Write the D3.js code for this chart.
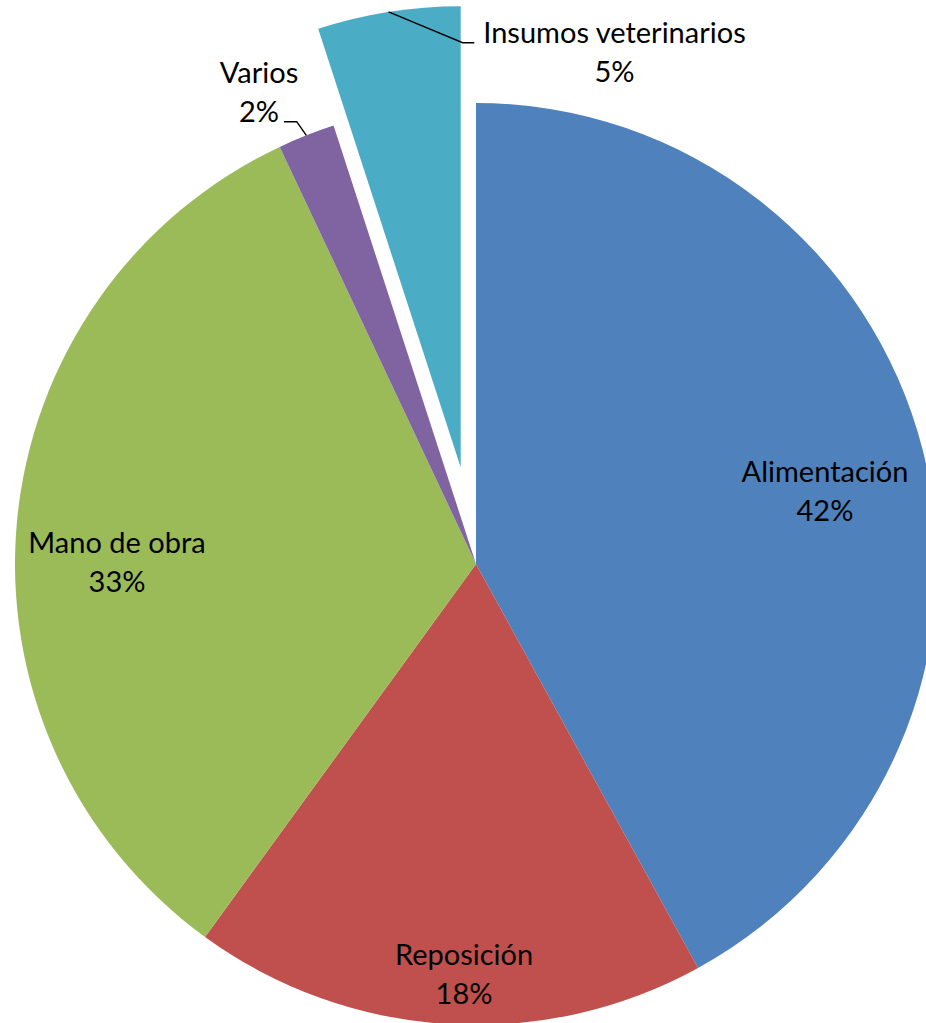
<!DOCTYPE html>
<html>
<head>
<meta charset="utf-8">
<script src="https://cdn.jsdelivr.net/npm/d3@7/dist/d3.min.js"></script>
<style>
  html, body { margin: 0; padding: 0; background: #ffffff; }
  svg { display: block; }
</style>
</head>
<body>
<script>
// Cost structure shares (%)
const categories = ["Alimentación", "Reposición", "Mano de obra", "Varios", "Insumos veterinarios"];
const values = [42, 18, 33, 2, 5];
const colors = ["#4F81BD", "#C0504D", "#9BBB59", "#8064A2", "#4BACC6"];
// Slices pulled out of the pie (distance in px)
const explode = [0, 0, 0, 0, 98];

const W = 926, H = 1023;
const cx = 476, cy = 564, R = 461;

const svg = d3.select("body").append("svg")
  .attr("width", W).attr("height", H);

const g = svg.append("g").attr("transform", `translate(${cx},${cy})`);

const pie = d3.pie().sort(null).value(d => d.value);
const arc = d3.arc().innerRadius(0).outerRadius(R);

const data = categories.map((c, i) => ({ name: c, value: values[i], color: colors[i], explode: explode[i] }));
const arcs = pie(data);

function offset(a) {
  const m = (a.startAngle + a.endAngle) / 2;
  return [Math.sin(m) * a.data.explode, -Math.cos(m) * a.data.explode];
}

g.selectAll("path.slice")
  .data(arcs)
  .join("path")
  .attr("class", "slice")
  .attr("d", arc)
  .attr("fill", d => d.data.color)
  .attr("transform", d => { const o = offset(d); return `translate(${o[0]},${o[1]})`; });

// Label placement relative to the pie centre: x of the label centre, y of the first
// baseline, plus an optional leader elbow and text-side end
const labelLayout = {
  "Alimentación":         { x: 349,   y: -82 },
  "Reposición":           { x: -12,   y: 401 },
  "Mano de obra":         { x: -359,  y: -11 },
  "Varios":               { x: -217,  y: -481, elbow: [-179.3, -442.3], end: [-192, -442.3] },
  "Insumos veterinarios": { x: 138.5, y: -521, elbow: [-13.3, -521.3], end: [-1.7, -521.3] }
};

const fontSize = 29;
const lineGap = 38.5;

arcs.forEach(a => {
  const L = labelLayout[a.data.name];
  const o = offset(a);
  const m = (a.startAngle + a.endAngle) / 2;
  if (L.elbow) {
    const edge = [o[0] + Math.sin(m) * R, o[1] - Math.cos(m) * R];
    g.append("polyline")
      .attr("points", [edge, L.elbow, L.end].map(p => p.join(",")).join(" "))
      .attr("fill", "none")
      .attr("stroke", "#000")
      .attr("stroke-width", 1.4);
  }
  const t = g.append("text")
    .attr("text-anchor", "middle")
    .attr("font-family", "Lato, 'Open Sans', sans-serif")
    .attr("font-size", fontSize)
    .attr("fill", "#000");
  t.append("tspan").attr("x", L.x).attr("y", L.y).text(a.data.name);
  t.append("tspan").attr("x", L.x).attr("y", L.y + lineGap).text(d3.format(".0f")(a.data.value) + "%");
});
</script>
</body>
</html>
